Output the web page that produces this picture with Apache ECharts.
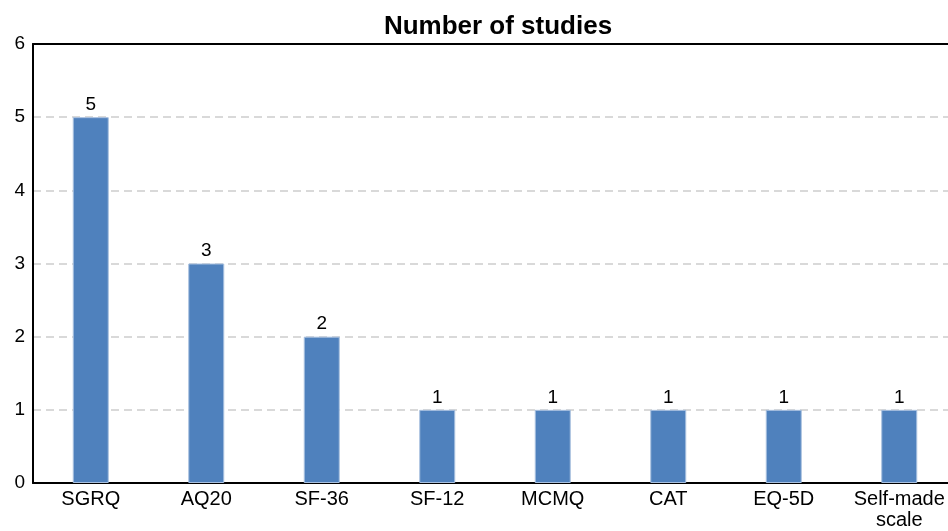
<!DOCTYPE html>
<html><head><meta charset="utf-8">
<script src="https://cdn.jsdelivr.net/npm/echarts@6/dist/echarts.min.js"></script>
<style>html,body{margin:0;padding:0;background:#fff;overflow:hidden;width:948px;height:531px}#c{width:970px;height:531px}</style>
</head><body><div id="c"></div>
<script>
const categories = ['SGRQ','AQ20','SF-36','SF-12','MCMQ','CAT','EQ-5D','Self-made\nscale'];
const studies = [5,3,2,1,1,1,1,1];
const yTicks = [0,1,2,3,4,5,6];

const chart = echarts.init(document.getElementById('c'));
chart.setOption({
  animation:false,
  title:{text:'Number of studies',left:493,textAlign:'center',top:9,
    textStyle:{fontFamily:'Liberation Sans, Arial',fontSize:26,fontWeight:'bold',color:'#000'}},
  grid:{left:33,top:44,width:924,bottom:48,containLabel:false},
  xAxis:[{type:'category',data:categories,
    axisLine:{lineStyle:{color:'#000',width:2}},
    axisTick:{show:false},
    axisLabel:{color:'#000',fontFamily:'Liberation Sans, Arial',fontSize:20,margin:6,lineHeight:21,interval:0}},
   {type:'category',position:'top',data:categories,
    axisLine:{lineStyle:{color:'#000',width:2}},axisTick:{show:false},axisLabel:{show:false}}],
  yAxis:{type:'value',min:yTicks[0],max:yTicks[yTicks.length-1],interval:1,
    axisLine:{show:true,lineStyle:{color:'#000',width:2}},
    axisTick:{show:false},
    axisLabel:{color:'#000',fontFamily:'Liberation Sans, Arial',fontSize:19,margin:8},
    splitLine:{show:true,lineStyle:{color:'#d9d9d9',type:[8,5],width:2}}},
  series:[{type:'bar',data:studies,barWidth:36,
    itemStyle:{color:'#4f81bd',borderColor:'#a9c1e0',borderWidth:1},
    label:{show:true,position:'top',color:'#000',fontFamily:'Liberation Sans, Arial',fontSize:19,distance:3}}]
});
</script></body></html>
